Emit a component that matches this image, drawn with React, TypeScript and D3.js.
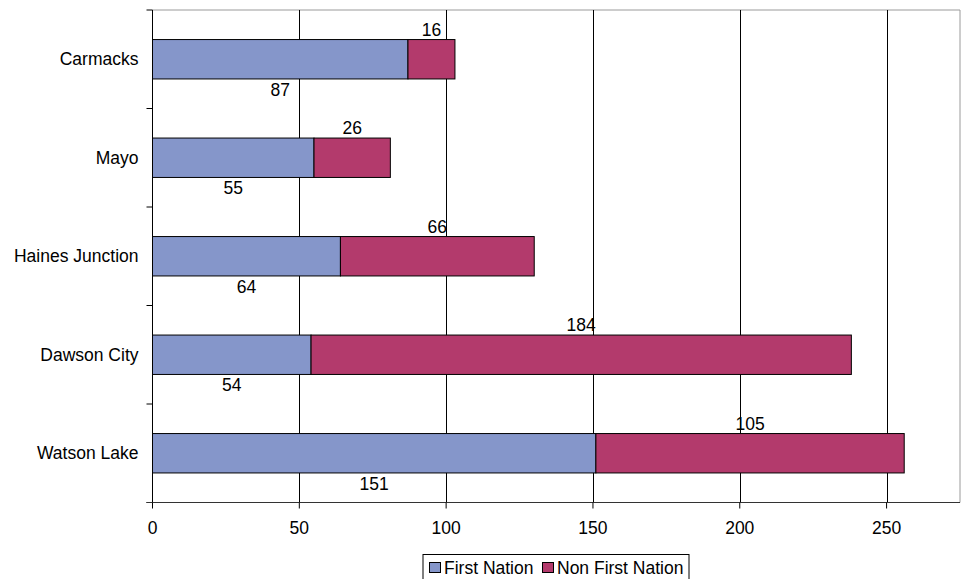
import React from "react";
import * as d3 from "d3";

const categories = ["Carmacks", "Mayo", "Haines Junction", "Dawson City", "Watson Lake"];
const firstNation = [87, 55, 64, 54, 151];
const nonFirstNation = [16, 26, 66, 184, 105];
const xTicks = [0, 50, 100, 150, 200, 250];
const seriesNames = ["First Nation", "Non First Nation"];
const colors = ["#8596CA", "#B33A6C"];

const W = 963, H = 579;
const left = 152.5, right = 960, top = 10, bottom = 502.5;
const FONT = "'Liberation Sans', Arial, sans-serif";
const FS = 17.5;

export default function App() {
  const x = d3.scaleLinear().domain([0, 275]).range([left, right]);
  const y = d3.scaleBand<string>().domain(categories).range([top, bottom]).paddingInner(0.6).paddingOuter(0.3);
  const step = y.step();
  const boundaries = d3.range(categories.length + 1).map((i) => top + i * step);

  return (
    <svg width={W} height={H} style={{ position: "absolute", left: 0, top: 0 }} fontFamily={FONT}>
      <rect x={0} y={0} width={W} height={H} fill="#fff" />
      <line x1={left} x2={right} y1={top} y2={top} stroke="#9a9a9a" strokeWidth={1} />
      <line x1={right} x2={right} y1={top} y2={bottom} stroke="#9a9a9a" strokeWidth={1} />
      {xTicks.slice(1).map((t) => (
        <line key={t} x1={Math.round(x(t)) + 0.5} x2={Math.round(x(t)) + 0.5} y1={top} y2={bottom} stroke="#000" strokeWidth={1} />
      ))}
      {categories.map((c, i) => {
        const y0 = y(c)!;
        const h = y.bandwidth();
        const a = firstNation[i];
        const b = nonFirstNation[i];
        return (
          <g key={c}>
            <rect x={x(0)} y={y0} width={x(a) - x(0)} height={h} fill={colors[0]} stroke="#000" strokeWidth={1} />
            <rect x={x(a)} y={y0} width={x(a + b) - x(a)} height={h} fill={colors[1]} stroke="#000" strokeWidth={1} />
            <text x={x(a / 2)} y={y0 + h + 17} fontSize={FS} textAnchor="middle" fill="#000">{a}</text>
            <text x={x(a + b / 2)} y={y0 - 4} fontSize={FS} textAnchor="middle" fill="#000">{b}</text>
            <text x={left - 14} y={y0 + h / 2 + 6} fontSize={FS} textAnchor="end" fill="#000">{c}</text>
          </g>
        );
      })}
      <line x1={left} x2={left} y1={top} y2={bottom} stroke="#000" strokeWidth={1} />
      {boundaries.map((b, i) => (
        <line key={i} x1={left - 6} x2={left} y1={b} y2={b} stroke="#000" strokeWidth={1} />
      ))}
      <line x1={left - 6} x2={right} y1={bottom} y2={bottom} stroke="#333" strokeWidth={1} />
      {xTicks.map((t) => (
        <g key={t}>
          <line x1={x(t)} x2={x(t)} y1={bottom} y2={bottom + 6} stroke="#000" strokeWidth={1} />
          <text x={x(t)} y={bottom + 31.5} fontSize={FS} textAnchor="middle" fill="#000">{t}</text>
        </g>
      ))}
      <rect x={423} y={554.5} width={266} height={30} fill="#fff" stroke="#000" strokeWidth={1} />
      {seriesNames.map((s, i) => {
        const lx = i === 0 ? 429 : 542;
        return (
          <g key={s}>
            <rect x={lx + 0.5} y={562.5} width={11} height={10} fill={colors[i]} stroke="#000" strokeWidth={1} />
            <text x={lx + 15} y={574} fontSize={FS} fill="#000">{s}</text>
          </g>
        );
      })}
    </svg>
  );
}
